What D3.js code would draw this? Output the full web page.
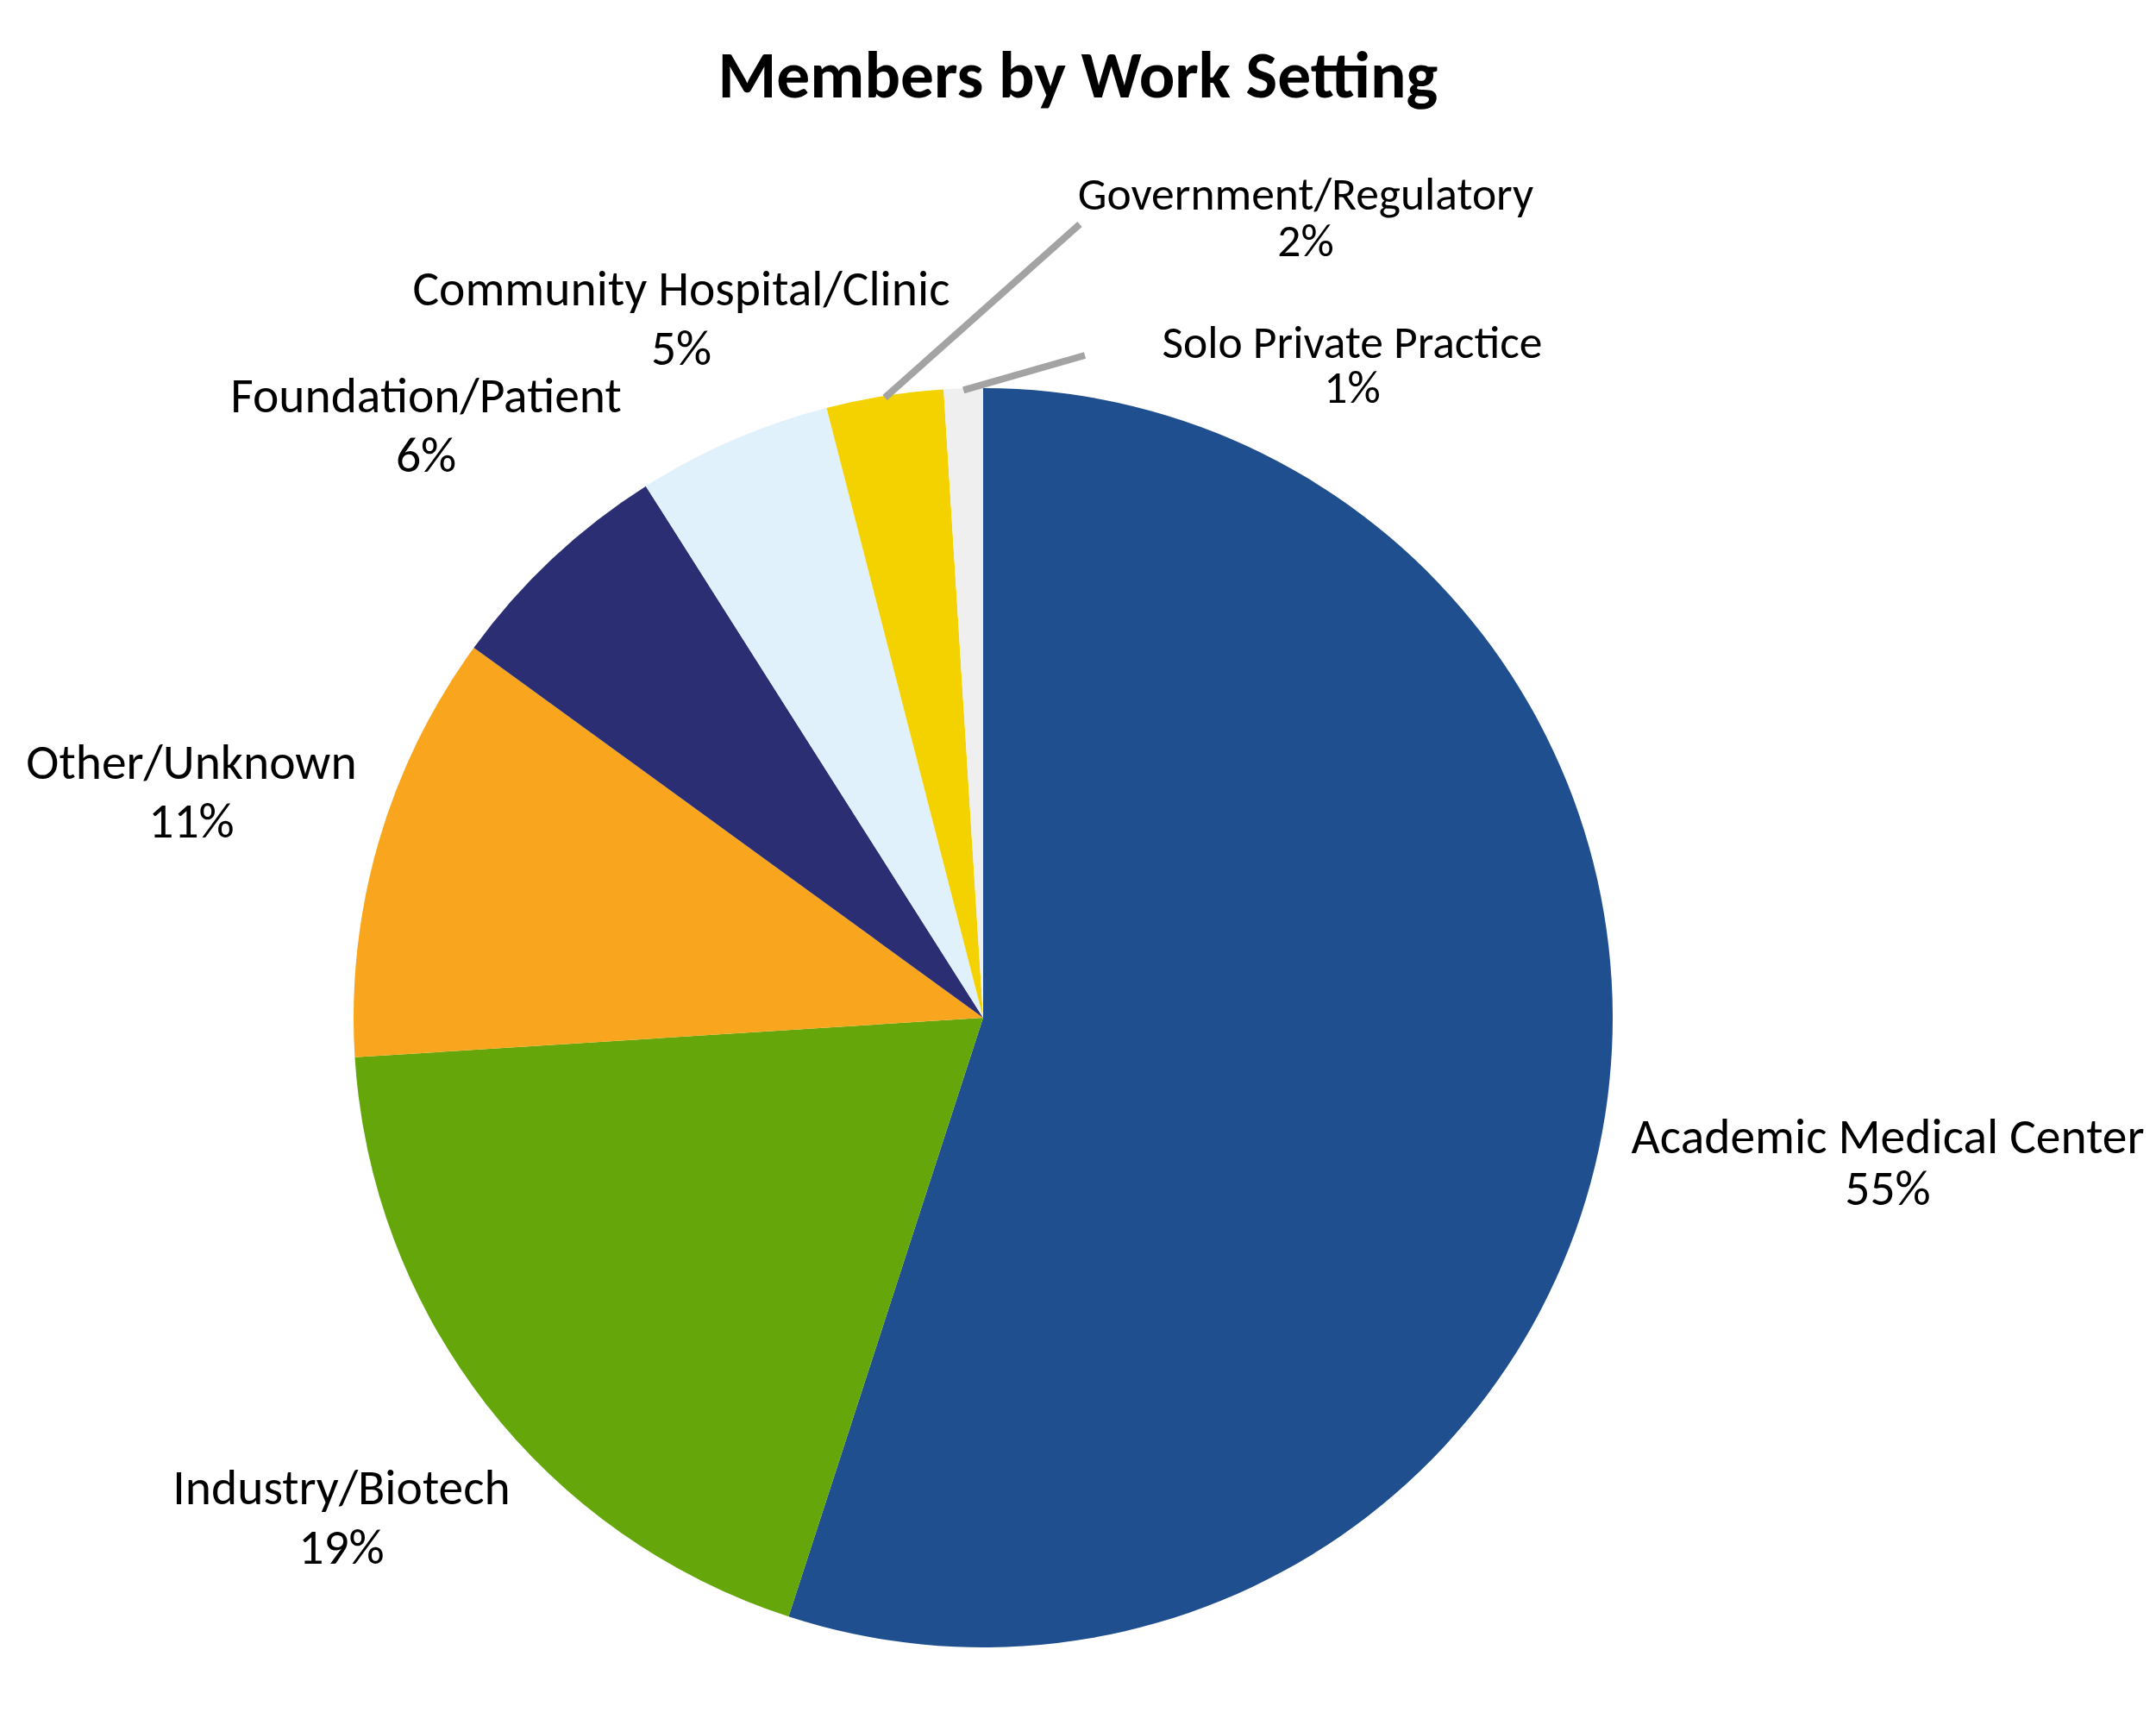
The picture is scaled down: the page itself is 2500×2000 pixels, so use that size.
<!DOCTYPE html>
<html>
<head>
<meta charset="utf-8">
<script src="https://cdn.jsdelivr.net/npm/d3@7"></script>
<style>
  html, body { margin: 0; padding: 0; background: #ffffff; }
  svg { display: block; }
</style>
</head>
<body>
<script>
// ---- data ----
const categories = ["Academic Medical Center", "Industry/Biotech", "Other/Unknown", "Foundation/Patient",
                    "Community Hospital/Clinic", "Government/Regulatory", "Solo Private Practice"];
const values = [55, 19, 11, 6, 5, 3, 1];
const percentLabels = ["55%", "19%", "11%", "6%", "5%", "2%", "1%"];
const colors = ["#1F4F8F", "#65A70B", "#F9A61E", "#2C2E73", "#E1F1FC", "#F4D200", "#EFEFEF"];
const title = "Members by Work Setting";

// ---- layout ----
const W = 2500, H = 2000;
const cx = 1140, cy = 1180, R = 730;
const FONT = "Carlito, Calibri, Lato, 'Liberation Sans', sans-serif";
// label anchor: [centerX, baseline of first line, line gap, font size]
const labelLayout = [
  [2189, 1337, 60, 57.5],
  [396, 1744, 69, 57.5],
  [222, 903, 68, 57.5],
  [494, 478, 69, 57.5],
  [790, 354, 69, 57.5],
  [1514, 243, 54, 53.5],
  [1568, 415, 52, 53.5]
];
// leader line ends (offset from label anchor) for small slices
const leaderOffsets = {5: [-262, 17], 6: [-310, -3]};

const svg = d3.select("body").append("svg").attr("width", W).attr("height", H);

svg.append("text")
  .attr("x", 1250).attr("y", 113)
  .attr("text-anchor", "middle")
  .attr("font-family", FONT).attr("font-weight", "bold").attr("font-size", 77.5)
  .attr("fill", "#000").text(title);

const pie = d3.pie().sort(null).value(d => d)(values);
const arc = d3.arc().innerRadius(0).outerRadius(R);
const g = svg.append("g").attr("transform", `translate(${cx},${cy})`);

g.selectAll("path").data(pie).join("path")
  .attr("d", arc)
  .attr("fill", (d, i) => colors[i]);

// leader lines
Object.keys(leaderOffsets).forEach(k => {
  const i = +k, d = pie[i];
  const a = (d.startAngle + d.endAngle) / 2;
  const x1 = cx + Math.sin(a) * (R - 2), y1 = cy - Math.cos(a) * (R - 2);
  const L = labelLayout[i], o = leaderOffsets[i];
  svg.append("line")
    .attr("x1", x1).attr("y1", y1)
    .attr("x2", L[0] + o[0]).attr("y2", L[1] + o[1])
    .attr("stroke", "#A3A3A3").attr("stroke-width", 8);
});

// labels
categories.forEach((c, i) => {
  const L = labelLayout[i];
  const t = svg.append("text")
    .attr("text-anchor", "middle")
    .attr("font-family", FONT).attr("font-size", L[3]).attr("fill", "#000");
  t.append("tspan").attr("x", L[0]).attr("y", L[1]).text(c);
  t.append("tspan").attr("x", L[0]).attr("y", L[1] + L[2]).text(percentLabels[i]);
});
</script>
</body>
</html>
